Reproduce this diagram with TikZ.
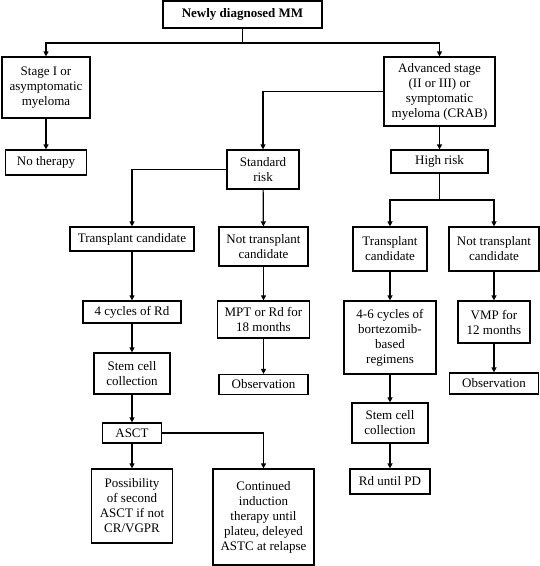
\documentclass[tikz,border=0pt]{standalone}
\usepackage{fontspec}
\setmainfont{Liberation Serif}
\usetikzlibrary{arrows.meta}

\begin{document}
\begin{tikzpicture}[x=1pt,y=-1pt,
    box/.style={draw,line width=1.2pt,align=center,inner sep=1pt,
      font=\fontsize{13}{15}\selectfont},
    arr/.style={line width=1.2pt,-{Triangle[length=5pt,width=5pt]}},
    ln/.style={line width=1.2pt}]
    \useasboundingbox (0,0) rectangle (540,566);

    % top of the tree
    \node[box,minimum width=159pt,minimum height=27pt,font=\fontsize{13}{15}\selectfont\bfseries] (mm) at (242.5,14.5) {Newly diagnosed MM};
    \coordinate (split) at (242.5,43);

    \node[box,minimum width=88pt,minimum height=61pt] (stage) at (46,87.5) {Stage I or\\asymptomatic\\myeloma};
    \node[box,minimum width=81pt,minimum height=25pt] (nother) at (46,162.5) {No therapy};

    \node[box,minimum width=111pt,minimum height=69pt] (adv) at (439.5,91.5) {Advanced stage\\(II or III) or\\symptomatic\\myeloma (CRAB)};
    \node[box,minimum width=72pt,minimum height=39pt] (std) at (263,169.5) {Standard\\risk};
    \node[box,minimum width=97pt,minimum height=23pt] (high) at (439.5,161.5) {High risk};
    \coordinate (hsplit) at (439.5,200);

    % standard risk
    \node[box,minimum width=124pt,minimum height=24pt] (tcl) at (132,239) {Transplant candidate};
    \node[box,minimum width=98pt,minimum height=22pt] (rdl) at (132,312) {4 cycles of Rd};
    \node[box,minimum width=76pt,minimum height=41pt] (steml) at (132,373.5) {Stem cell\\collection};
    \node[box,minimum width=59pt,minimum height=20pt] (asct) at (132,433) {ASCT};
    \node[box,minimum width=81pt,minimum height=74pt] (poss) at (132,506) {Possibility\\of second\\ASCT if not\\CR/VGPR};
    \node[box,minimum width=101pt,minimum height=96pt] (cont) at (263.5,517) {Continued\\induction\\therapy until\\plateu, deleyed\\ASTC at relapse};

    \node[box,minimum width=89pt,minimum height=39pt] (ntcm) at (263.5,246.5) {Not transplant\\candidate};
    \node[box,minimum width=92pt,minimum height=37pt] (mpt) at (263.5,319.5) {MPT or Rd for\\18 months};
    \node[box,minimum width=89pt,minimum height=20pt] (obsm) at (263.5,384.5) {Observation};

    % high risk
    \node[box,minimum width=74pt,minimum height=44pt] (tcr) at (390,249) {Transplant\\candidate};
    \node[box,minimum width=92pt,minimum height=73pt] (bort) at (390,337.5) {4-6 cycles of\\bortezomib-\\based\\regimens};
    \node[box,minimum width=76pt,minimum height=40pt] (stemr) at (390,423) {Stem cell\\collection};
    \node[box,minimum width=80pt,minimum height=25pt] (rdpd) at (390,481.5) {Rd until PD};

    \node[box,minimum width=90pt,minimum height=44pt] (ntcr) at (494,249) {Not transplant\\candidate};
    \node[box,minimum width=72pt,minimum height=42pt] (vmp) at (494,322) {VMP for\\12 months};
    \node[box,minimum width=89pt,minimum height=21pt] (obsr) at (494,383.5) {Observation};

    \draw[ln] (mm) -- (split);
    \draw[arr] (split) -| (stage);
    \draw[arr] (split) -| (adv);
    \draw[arr] (stage) -- (nother);
    \draw[arr] (adv.west) -| (std);
    \draw[arr] (adv) -- (high);

    \draw[arr] (std.west) -| (tcl);
    \draw[arr] (std) -- (ntcm);
    \draw[arr] (tcl) -- (rdl);
    \draw[arr] (rdl) -- (steml);
    \draw[arr] (steml) -- (asct);
    \draw[arr] (asct) -- (poss);
    \draw[arr] (asct.east) -| (cont);
    \draw[arr] (ntcm) -- (mpt);
    \draw[arr] (mpt) -- (obsm);

    \draw[ln] (high) -- (hsplit);
    \draw[arr] (hsplit) -| (tcr);
    \draw[arr] (hsplit) -| (ntcr);
    \draw[arr] (tcr) -- (bort);
    \draw[arr] (bort) -- (stemr);
    \draw[arr] (stemr) -- (rdpd);
    \draw[arr] (ntcr) -- (vmp);
    \draw[arr] (vmp) -- (obsr);
\end{tikzpicture}
\end{document}
